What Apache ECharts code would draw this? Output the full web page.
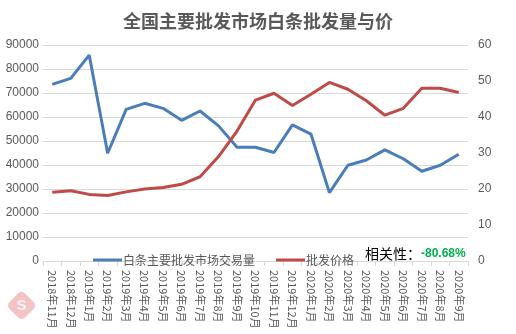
<!DOCTYPE html>
<html>
<head>
<meta charset="utf-8">
<script src="https://cdn.jsdelivr.net/npm/echarts@6/dist/echarts.min.js"></script>
<style>
  html, body { margin: 0; padding: 0; background: #fff; }
  #chart { width: 516px; height: 334px; }
</style>
</head>
<body>
<div id="chart"></div>
<script>
// Monthly categories
const months = ['2018年11月','2018年12月','2019年1月','2019年2月','2019年3月','2019年4月','2019年5月','2019年6月','2019年7月','2019年8月','2019年9月','2019年10月','2019年11月','2019年12月','2020年1月','2020年2月','2020年3月','2020年4月','2020年5月','2020年6月','2020年7月','2020年8月','2020年9月'];

// Trading volume at major wholesale markets (left axis)
const volume = [73600, 76100, 85800, 44900, 63200, 65700, 63600, 58600, 62500, 56300, 47400, 47400, 45200, 56700, 52900, 28500, 39900, 42100, 46300, 42600, 37400, 39900, 44500];

// Wholesale price (right axis)
const price = [19.1, 19.5, 18.5, 18.2, 19.2, 20.0, 20.4, 21.3, 23.4, 29.0, 36.1, 44.7, 46.6, 43.2, 46.3, 49.6, 47.7, 44.5, 40.5, 42.4, 48.0, 48.0, 46.8];

const leftTicks = { min: 0, max: 90000, interval: 10000 };
const rightTicks = { min: 0, max: 60, interval: 10 };

const titleText = '全国主要批发市场白条批发量与价';
const seriesNames = ['白条主要批发市场交易量', '批发价格'];
const corrLabel = '相关性：';
const corrValue = '-80.68%';

const grey = '#595959';
const chart = echarts.init(document.getElementById('chart'));
chart.setOption({
  animation: false,
  backgroundColor: '#fff',
  title: {
    text: titleText,
    left: 'center',
    top: 7,
    textStyle: { fontFamily: 'Noto Sans CJK SC', fontSize: 18, fontWeight: 'bold', color: grey }
  },
  legend: {
    left: 88,
    top: 249,
    itemGap: 21,
    itemWidth: 29,
    itemHeight: 3,
    icon: 'rect',
    textStyle: { fontFamily: 'Noto Sans CJK SC', fontSize: 12, color: grey, padding: [0, 0, 0, -4] },
    data: seriesNames
  },
  graphic: [
    {
      type: 'group',
      left: 6, top: 290,
      children: [
        { type: 'rect', shape: { x: -11, y: -11, width: 22, height: 22, r: 5 }, rotation: Math.PI / 4, x: 13, y: 15,
          style: { fill: '#e8888f', opacity: 0.5 } },
        { type: 'text', x: 13, y: 15, style: { text: 'S', fill: '#fff', font: 'bold 15px sans-serif', align: 'center', verticalAlign: 'middle', opacity: 0.8 } }
      ],
      z: 0
    },
    {
      type: 'text',
      left: 365, top: 247,
      style: {
        text: '{a|' + corrLabel + '}{b|' + corrValue + '}',
        rich: {
          a: { fontFamily: 'Noto Sans CJK SC', fontSize: 14, fill: '#000' },
          b: { fontFamily: 'Liberation Sans', fontSize: 12, fontWeight: 'bold', fill: '#00b050' }
        }
      },
      z: 10
    }
  ],
  grid: { left: 43, right: 48, top: 45, bottom: 73, containLabel: false },
  xAxis: {
    type: 'category',
    data: months,
    boundaryGap: true,
    axisLine: { lineStyle: { color: '#d9d9d9' } },
    axisTick: { show: true, length: 5, lineStyle: { color: '#d9d9d9' } },
    axisLabel: {
      interval: 0,
      rotate: -90,
      margin: 9,
      fontFamily: 'Noto Sans CJK SC',
      fontSize: 11,
      color: grey
    }
  },
  yAxis: [
    {
      type: 'value',
      min: leftTicks.min, max: leftTicks.max, interval: leftTicks.interval,
      axisLine: { show: false },
      axisTick: { show: false },
      splitLine: { lineStyle: { color: '#d9d9d9', width: 1 } },
      axisLabel: { fontFamily: 'Liberation Sans', fontSize: 12, color: grey, margin: 4, formatter: v => String(v) }
    },
    {
      type: 'value',
      min: rightTicks.min, max: rightTicks.max, interval: rightTicks.interval,
      axisLine: { show: false },
      axisTick: { show: false },
      splitLine: { show: false },
      axisLabel: { fontFamily: 'Liberation Sans', fontSize: 12, color: grey, margin: 10, formatter: v => String(v) }
    }
  ],
  series: [
    {
      name: seriesNames[0],
      type: 'line',
      yAxisIndex: 0,
      data: volume,
      symbol: 'none',
      itemStyle: { color: '#4a7ebb' },
      lineStyle: { color: '#4a7ebb', width: 3 }
    },
    {
      name: seriesNames[1],
      type: 'line',
      yAxisIndex: 1,
      data: price,
      symbol: 'none',
      itemStyle: { color: '#be4b48' },
      lineStyle: { color: '#be4b48', width: 3 }
    }
  ]
});
</script>
</body>
</html>
